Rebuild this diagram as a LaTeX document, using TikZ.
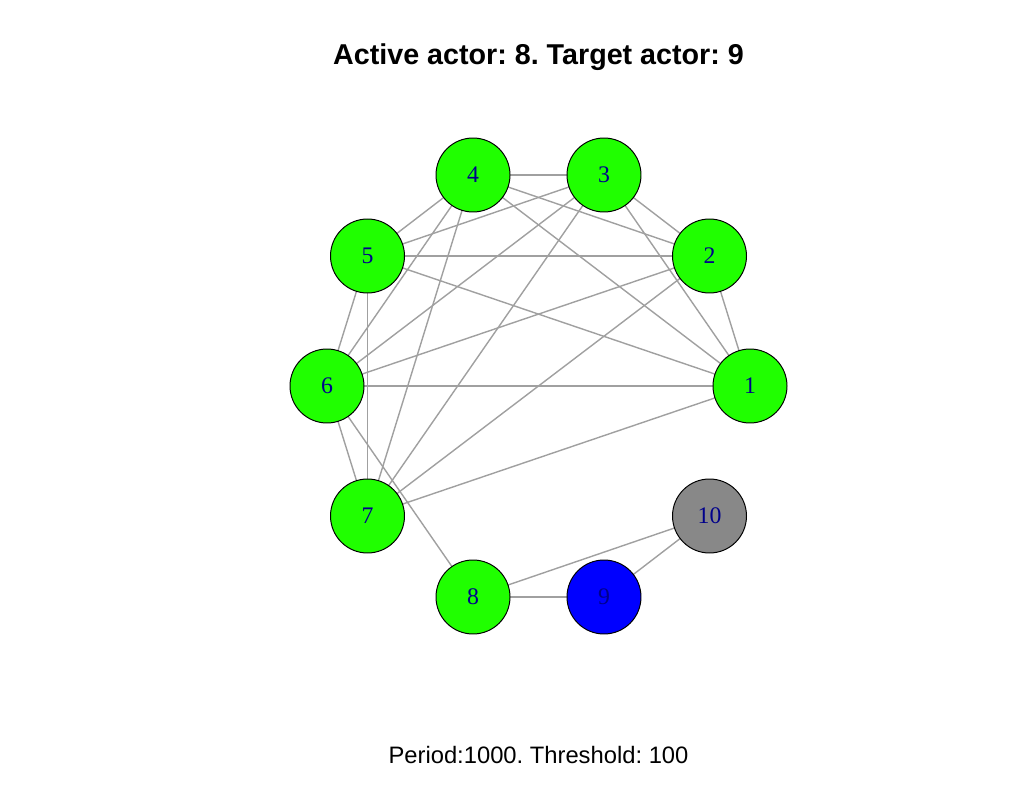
\documentclass[tikz,border=0pt]{standalone}
\usepackage{fontspec}
\setmainfont{Liberation Serif}
\newfontfamily\titlefont{Liberation Sans}
\frenchspacing
\definecolor{actorgreen}{RGB}{32,255,0}
\definecolor{actorgray}{RGB}{136,136,136}
\definecolor{edgegray}{RGB}{160,160,160}
\definecolor{labelblue}{RGB}{0,0,139}
\tikzset{
  actor/.style={circle,draw=black,line width=0.7pt,minimum size=74*0.025cm,inner sep=0pt,
    text=labelblue,font=\fontsize{16.9}{18}\selectfont},
  tie/.style={draw=edgegray,line width=1pt},
}
\begin{document}
\begin{tikzpicture}[x=0.025cm,y=-0.025cm]
        \useasboundingbox (0,0) rectangle (1020,800);
        \coordinate (P1) at (750,386);
        \coordinate (P2) at (709.5,256);
        \coordinate (P3) at (604,175);
        \coordinate (P4) at (473,175);
        \coordinate (P5) at (367.5,256);
        \coordinate (P6) at (327,386);
        \coordinate (P7) at (367.5,516);
        \coordinate (P8) at (473,597);
        \coordinate (P9) at (604,597);
        \coordinate (P10) at (709.5,516);
        \node[anchor=base,font=\titlefont\bfseries\fontsize{20.4}{24}\selectfont] (title) at (538.5,65) {Active actor: 8. Target actor: 9};
        \node[anchor=base,font=\titlefont\fontsize{16.9}{20}\selectfont] (sub) at (538.5,763) {Period:1000. Threshold: 100};
        % ties first, actors on top
        \foreach \a/\b in {4/3,4/2,4/1,4/5,4/6,4/7,3/5,3/2,3/1,3/6,3/7,5/2,5/1,5/6,5/7,2/6,2/7,2/1,6/1,6/7,6/8,7/1,8/9,8/10,9/10}
          \draw[tie] (P\a) -- (P\b);
        \foreach \i in {1,...,8}
          \node[actor,fill=actorgreen] (n\i) at (P\i) {\i};
        \node[actor,fill=blue] (n9) at (P9) {9};
        \node[actor,fill=actorgray] (n10) at (P10) {10};
\end{tikzpicture}
\end{document}
